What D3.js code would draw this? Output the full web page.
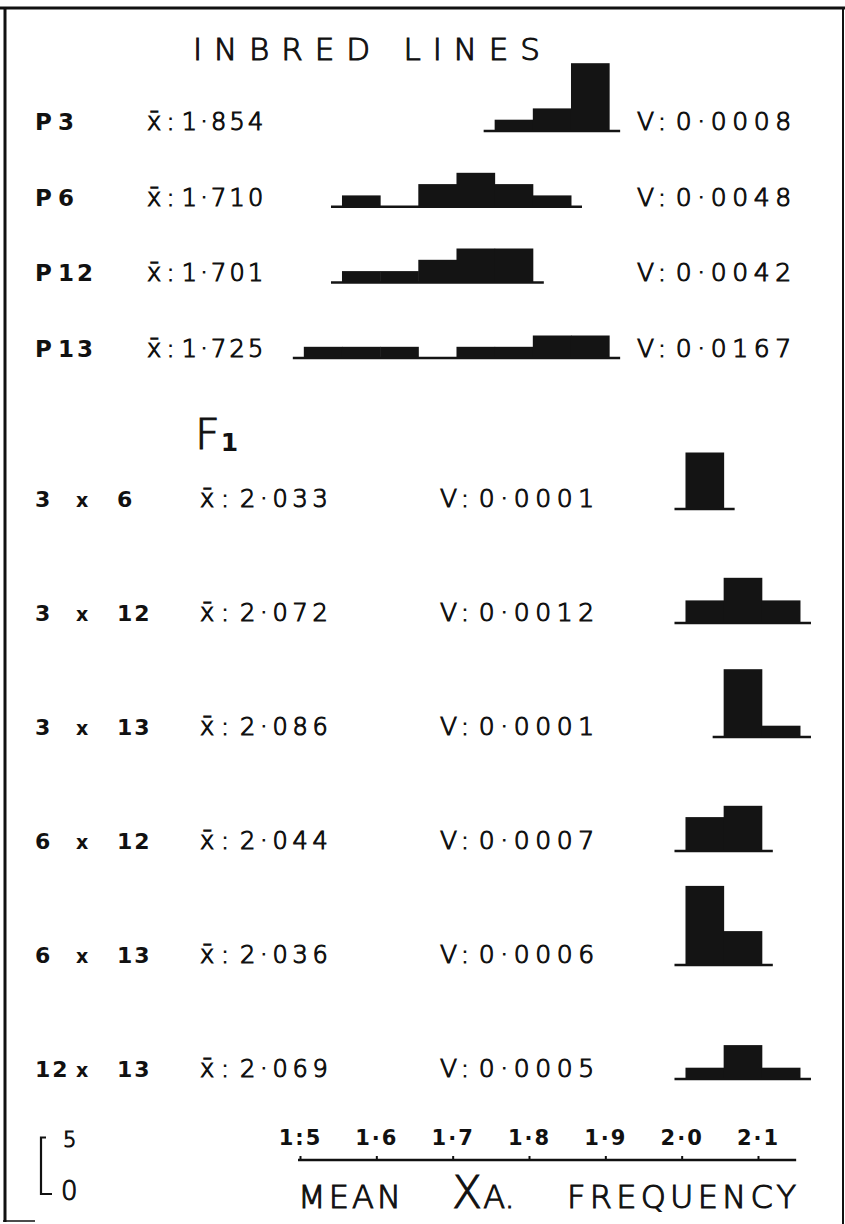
<!DOCTYPE html>
<html>
<head>
<meta charset="utf-8">
<script src="https://cdn.jsdelivr.net/npm/d3@7/dist/d3.min.js"></script>
<style>
  html, body { margin: 0; padding: 0; background: #fff; }
  svg { display: block; }
  text { fill: #111; }
  text.lt { stroke: #111; stroke-width: 1.1px; }
</style>
</head>
<body>
<script>
// Inbred lines: names, means, variances, lower edge of the first class, counts per 0.05 class
const inbredNames = ["P", "P", "P", "P"];
const inbredNums = ["3", "6", "12", "13"];
const inbredMeans = ["1·854", "1·710", "1·701", "1·725"];
const inbredVars = ["0·0008", "0·0048", "0·0042", "0·0167"];
const inbredFirstEdge = [1.755, 1.555, 1.555, 1.505];
const inbredCounts = [
  [1, 2, 6],
  [1, 0, 2, 3, 2, 1],
  [1, 1, 2, 3, 3],
  [1, 1, 1, 0, 1, 1, 2, 2]
];

// F1 crosses
const crossLeft = ["3", "3", "3", "6", "6", "12"];
const crossRight = ["6", "12", "13", "12", "13", "13"];
const crossMeans = ["2·033", "2·072", "2·086", "2·044", "2·036", "2·069"];
const crossVars = ["0·0001", "0·0012", "0·0001", "0·0007", "0·0006", "0·0005"];
const crossFirstEdge = [2.005, 2.005, 2.055, 2.005, 2.005, 2.005];
const crossCounts = [
  [5],
  [2, 4, 2],
  [6, 1],
  [3, 4],
  [7, 3],
  [1, 3, 1]
];

// Axis
const tickValues = [1.5, 1.6, 1.7, 1.8, 1.9, 2.0, 2.1];
const tickLabels = ["1:5", "1·6", "1·7", "1·8", "1·9", "2·0", "2·1"];
const axisEnd = 2.15;
const binWidth = 0.05;
const scaleBarCount = 5;

const W = 845, H = 1224;
const FONT = "'DejaVu Sans', 'Liberation Sans', sans-serif";

const svg = d3.select("body").append("svg")
  .attr("width", W).attr("height", H)
  .attr("font-family", FONT);

const x = d3.scaleLinear().domain([1.5, 2.1]).range([300, 758]);
const h = d3.scaleLinear().domain([0, 1]).range([0, 11.3]);

// frame
const frame = svg.append("g").attr("stroke", "#111").attr("fill", "none");
frame.append("line").attr("x1", 0).attr("x2", W).attr("y1", 8).attr("y2", 8).attr("stroke-width", 3);
frame.append("line").attr("x1", 5).attr("x2", 5).attr("y1", 7).attr("y2", 1222).attr("stroke-width", 3);
frame.append("line").attr("x1", 3).attr("x2", 35).attr("y1", 1221).attr("y2", 1221).attr("stroke-width", 1.5);
frame.append("line").attr("x1", 843).attr("x2", 843).attr("y1", 7).attr("y2", H).attr("stroke-width", 2);

// title
svg.append("text").attr("class", "lt")
  .attr("x", 193).attr("y", 60)
  .attr("font-size", 31).attr("font-weight", 300)
  .attr("textLength", 347).attr("lengthAdjust", "spacing")
  .text("INBRED LINES");

function histogram(g, firstEdge, counts, baseY, pad) {
  const bins = counts.map((c, i) => ({ x0: firstEdge + i * binWidth, x1: firstEdge + (i + 1) * binWidth, c }));
  g.selectAll("rect.bar").data(bins.filter(b => b.c > 0)).join("rect")
    .attr("class", "bar")
    .attr("x", d => x(d.x0))
    .attr("width", d => x(d.x1) - x(d.x0) + 0.5)
    .attr("y", d => baseY - h(d.c))
    .attr("height", d => h(d.c))
    .attr("fill", "#141414");
  g.append("line")
    .attr("x1", x(firstEdge) - pad)
    .attr("x2", x(firstEdge + counts.length * binWidth) + pad)
    .attr("y1", baseY).attr("y2", baseY)
    .attr("stroke", "#141414").attr("stroke-width", 2.5);
}

function meanLabel(g, xPos, y, val, spacing, gap) {
  const t = g.append("text").attr("class", "lt").attr("x", xPos).attr("y", y)
    .attr("font-size", 24).attr("font-weight", 300).attr("letter-spacing", spacing);
  t.append("tspan").text("x\u0304");
  t.append("tspan").attr("dx", 2).text(":");
  t.append("tspan").attr("dx", gap).text(val);
}

function varLabel(g, xPos, y, val) {
  const t = g.append("text").attr("class", "lt").attr("x", xPos).attr("y", y)
    .attr("font-size", 25).attr("font-weight", 300).attr("letter-spacing", 5.6);
  t.append("tspan").text("V:");
  t.append("tspan").attr("dx", 4).text(val);
}

// inbred rows
inbredCounts.forEach((counts, i) => {
  const baseY = 131 + i * 75.7;
  const g = svg.append("g");
  const nm = g.append("text").attr("x", 35).attr("y", baseY - 1)
    .attr("font-size", 23).attr("font-weight", "bold");
  nm.append("tspan").text(inbredNames[i]);
  nm.append("tspan").attr("x", 58).attr("letter-spacing", 3).text(inbredNums[i]);
  meanLabel(g, 147, baseY - 1, inbredMeans[i], 3.2, 4);
  varLabel(g, 637, baseY - 1, inbredVars[i]);
  histogram(g, inbredFirstEdge[i], counts, baseY, 11);
});

// F1 heading
const f1 = svg.append("text").attr("class", "lt").attr("x", 195).attr("y", 449)
  .attr("font-size", 43).attr("font-weight", 300);
f1.append("tspan").text("F");
f1.append("tspan").attr("font-size", 25).attr("font-weight", "bold").attr("stroke-width", 0).attr("dx", 1).attr("dy", 2).text("1");

// cross rows
crossCounts.forEach((counts, i) => {
  const baseY = 509 + i * 114;
  const g = svg.append("g");
  const nm = g.append("text").attr("y", baseY - 2)
    .attr("font-size", 22).attr("font-weight", "bold").attr("letter-spacing", 2);
  nm.append("tspan").attr("x", 35).text(crossLeft[i]);
  nm.append("tspan").attr("x", 76).attr("font-size", 19).text("x");
  nm.append("tspan").attr("x", 117).text(crossRight[i]);
  meanLabel(g, 200, baseY - 2, crossMeans[i], 4.8, 6);
  varLabel(g, 440, baseY - 2, crossVars[i]);
  histogram(g, crossFirstEdge[i], counts, baseY, 11);
});

// x axis
const axisY = 1160;
const axisG = svg.append("g").attr("transform", `translate(0,${axisY})`)
  .call(d3.axisTop(x).tickValues(tickValues)
    .tickFormat((d, i) => tickLabels[i])
    .tickSizeInner(4).tickSizeOuter(0).tickPadding(11));
axisG.select(".domain").remove();
axisG.selectAll(".tick line").attr("stroke", "#111").attr("stroke-width", 2);
axisG.selectAll(".tick text")
  .attr("font-family", FONT).attr("font-size", 21).attr("font-weight", "bold")
  .attr("fill", "#111").attr("letter-spacing", 2);
axisG.append("line")
  .attr("x1", x(1.5) - 2).attr("x2", x(axisEnd))
  .attr("y1", 0).attr("y2", 0)
  .attr("stroke", "#111").attr("stroke-width", 2.5);

// axis title
const titleY = 1208;
svg.append("text").attr("class", "lt").attr("x", 298).attr("y", titleY)
  .attr("font-size", 32).attr("font-weight", 300)
  .attr("textLength", 103).attr("lengthAdjust", "spacing").text("MEAN");
const xa = svg.append("text").attr("class", "lt").attr("x", 452).attr("y", titleY).attr("font-weight", 300);
xa.append("tspan").attr("font-size", 44).text("X");
xa.append("tspan").attr("font-size", 32).attr("dx", 1).text("A.");
svg.append("text").attr("class", "lt").attr("x", 567).attr("y", titleY)
  .attr("font-size", 32).attr("font-weight", 300)
  .attr("textLength", 229).attr("lengthAdjust", "spacing").text("FREQUENCY");

// count scale bar (0 to 5)
const sbBase = 1194;
const sb = svg.append("g").attr("stroke", "#111").attr("fill", "none").attr("stroke-width", 2.2);
sb.append("path").attr("d",
  `M46,${sbBase - h(scaleBarCount)} H41 V${sbBase} H52`);
svg.append("text").attr("class", "lt").attr("x", 63).attr("y", 1147)
  .attr("font-size", 21).attr("font-weight", 300).text("5");
svg.append("text").attr("class", "lt").attr("x", 61).attr("y", 1200)
  .attr("font-size", 26).attr("font-weight", 300).text("0");
</script>
</body>
</html>
